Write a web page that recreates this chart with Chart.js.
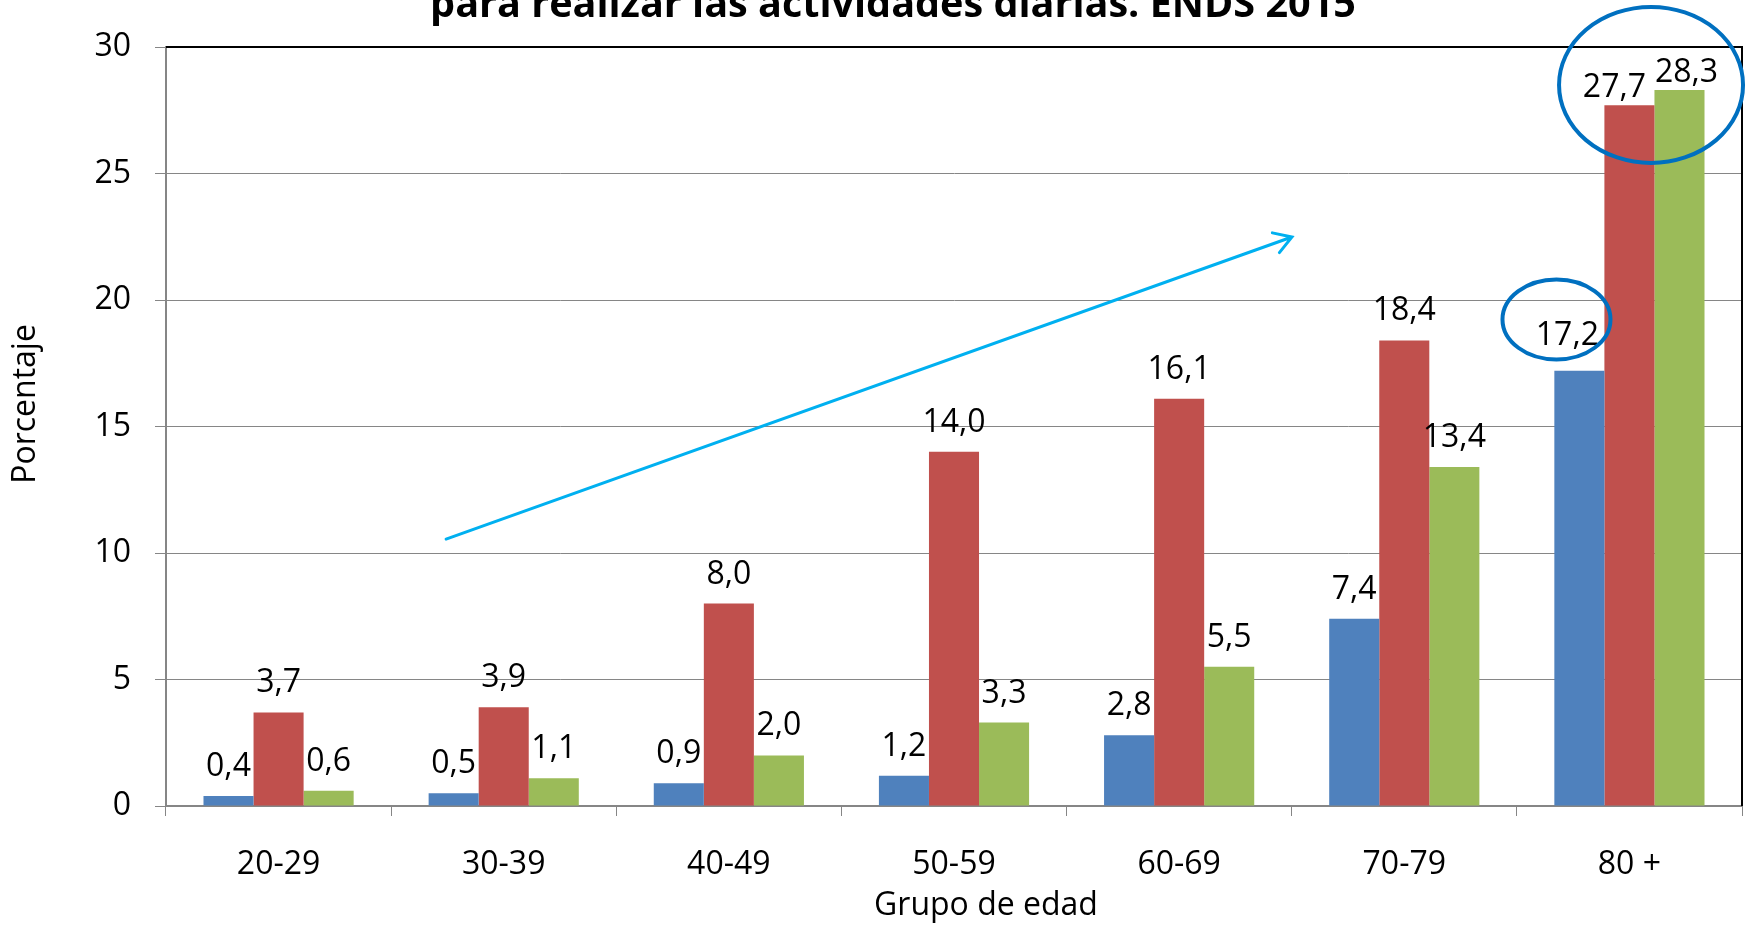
<!DOCTYPE html>
<html>
<head>
<meta charset="utf-8">
<script src="https://cdn.jsdelivr.net/npm/chart.js@4.4.1/dist/chart.umd.min.js"></script>
<style>
body { margin: 0; background: #ffffff; }
#box { width: 1748px; height: 929px; }
</style>
</head>
<body>
<div id="box"><canvas id="graph" width="1748" height="929"></canvas></div>
<script>
//chart data
const titleText = "para realizar las actividades diarias. ENDS 2015";
const xTitle = "Grupo de edad";
const yTitle = "Porcentaje";
const categories = ["20-29", "30-39", "40-49", "50-59", "60-69", "70-79", "80 +"];
const serieBlue = [0.4, 0.5, 0.9, 1.2, 2.8, 7.4, 17.2];
const serieRed = [3.7, 3.9, 8.0, 14.0, 16.1, 18.4, 27.7];
const serieGreen = [0.6, 1.1, 2.0, 3.3, 5.5, 13.4, 28.3];
const yMin = 0;
const yMax = 30;
const yStep = 5;

//annotations, in (category index, value) space
const trendArrow = { from: [0.744, 10.55], to: [4.501, 22.49] };
const highlightBig = { at: [6.096, 28.5], rx: 92, ry: 78 };
const highlightSmall = { at: [5.676, 19.23], rx: 54, ry: 40 };

//manual nudges of some value labels (dataset-index)
const labelNudge = { "0-6": [-12, -6], "1-6": [-15, 12], "2-6": [7, 12] };

const FONT = "'Open Sans', sans-serif";
const AXIS_GRAY = "#868686";

/**********/
function formatValue(v)
{
    return v.toFixed(1).replace(".", ",");
}

/**********/
const titlePlugin =
{
    id: "cutTitle",
    afterDraw(chart)
    {
        let ctx = chart.ctx;
        ctx.save();
        ctx.font = "bold 40px " + FONT;
        let w = ctx.measureText(titleText).width;
        let size = 40 * 926 / w;
        ctx.font = "bold " + size.toFixed(1) + "px " + FONT;
        ctx.fillStyle = "#000000";
        ctx.textAlign = "center";
        ctx.textBaseline = "alphabetic";
        ctx.fillText(titleText, 893, 17);
        ctx.restore();
    }
};

/**********/
const axisTitlePlugin =
{
    id: "axisTitles",
    afterDraw(chart)
    {
        let ctx = chart.ctx;
        ctx.save();
        ctx.font = "32px " + FONT;
        ctx.fillStyle = "#000000";
        ctx.textAlign = "center";
        ctx.textBaseline = "middle";

        ctx.fillText(xTitle, 986, 906);

        ctx.translate(26, 404);
        ctx.rotate(-Math.PI / 2);
        ctx.fillText(yTitle, 0, 0);
        ctx.restore();
    }
};

/**********/
const borderPlugin =
{
    id: "plotBorder",
    beforeDatasetsDraw(chart)
    {
        let a = chart.chartArea;
        let ctx = chart.ctx;
        ctx.save();
        ctx.strokeStyle = "#000000";
        ctx.lineWidth = 2;
        ctx.beginPath();
        ctx.moveTo(a.left, a.top);
        ctx.lineTo(a.right, a.top);
        ctx.lineTo(a.right, a.bottom);
        ctx.stroke();
        ctx.restore();
    }
};

/**********/
const valueLabelPlugin =
{
    id: "valueLabels",
    afterDatasetsDraw(chart)
    {
        let ctx = chart.ctx;
        ctx.save();
        ctx.font = "32px " + FONT;
        ctx.fillStyle = "#000000";
        ctx.textAlign = "center";
        ctx.textBaseline = "alphabetic";

        chart.data.datasets.forEach(function(ds, d)
        {
            let meta = chart.getDatasetMeta(d);
            meta.data.forEach(function(bar, i)
            {
                let nudge = labelNudge[d + "-" + i] || [0, 0];
                ctx.fillText(formatValue(ds.data[i]), bar.x + nudge[0], bar.y - 20 + nudge[1]);
            });
        });
        ctx.restore();
    }
};

/**********/
function toPixel(chart, point)
{
    return [chart.scales.x.getPixelForValue(point[0]), chart.scales.y.getPixelForValue(point[1])];
}

/**********/
const overlayPlugin =
{
    id: "overlays",
    afterDraw(chart)
    {
        let ctx = chart.ctx;
        ctx.save();

        //arrow
        let p0 = toPixel(chart, trendArrow.from);
        let p1 = toPixel(chart, trendArrow.to);
        let ang = Math.atan2(p1[1] - p0[1], p1[0] - p0[0]);
        ctx.strokeStyle = "#00B0F0";
        ctx.lineWidth = 3;
        ctx.lineCap = "round";
        ctx.beginPath();
        ctx.moveTo(p0[0], p0[1]);
        ctx.lineTo(p1[0], p1[1]);
        ctx.moveTo(p1[0] - 20 * Math.cos(ang - 0.55), p1[1] - 20 * Math.sin(ang - 0.55));
        ctx.lineTo(p1[0], p1[1]);
        ctx.lineTo(p1[0] - 20 * Math.cos(ang + 0.55), p1[1] - 20 * Math.sin(ang + 0.55));
        ctx.stroke();

        //ellipses
        ctx.strokeStyle = "#0070C0";
        ctx.lineWidth = 4;
        [highlightBig, highlightSmall].forEach(function(e)
        {
            let c = toPixel(chart, e.at);
            ctx.beginPath();
            ctx.ellipse(c[0], c[1], e.rx, e.ry, 0, 0, 2 * Math.PI);
            ctx.stroke();
        });

        ctx.restore();
    }
};

/**********/
function displayGraph()
{
    let datasets = [];
    datasets.push( { label: "Serie 1", data: serieBlue, backgroundColor: "#4F81BD" } );
    datasets.push( { label: "Serie 2", data: serieRed, backgroundColor: "#C0504D" } );
    datasets.push( { label: "Serie 3", data: serieGreen, backgroundColor: "#9BBB59" } );

    const ctx = document.getElementById("graph");

    window.graph = new Chart(ctx,
    {
        type: "bar",

        data:
        {
            labels: categories,
            datasets: datasets
        },

        options:
        {
            responsive: false,
            animation: false,
            layout: { padding: { top: 47, right: 6, left: 0, bottom: 0 } },
            datasets: { bar: { categoryPercentage: 0.667, barPercentage: 1.0 } },
            plugins:
            {
                legend: { display: false },
                tooltip: { enabled: false }
            },
            scales:
            {
                x:
                {
                    afterFit: function(scale) { scale.height = 123; },
                    grid: { drawOnChartArea: false, drawTicks: true, tickLength: 10, color: AXIS_GRAY, offset: true },
                    border: { color: AXIS_GRAY, width: 2 },
                    ticks: { color: "#000000", padding: 30, font: { family: FONT, size: 32 } }
                },
                y:
                {
                    min: yMin,
                    max: yMax,
                    afterFit: function(scale) { scale.width = 166; },
                    grid: { color: AXIS_GRAY, lineWidth: 1, drawTicks: true, tickLength: 11 },
                    border: { color: AXIS_GRAY, width: 2 },
                    ticks: { stepSize: yStep, color: "#000000", padding: 24, font: { family: FONT, size: 32 } }
                }
            }
        },

        plugins: [borderPlugin, valueLabelPlugin, overlayPlugin, axisTitlePlugin, titlePlugin]
    });
}

displayGraph();
</script>
</body>
</html>
